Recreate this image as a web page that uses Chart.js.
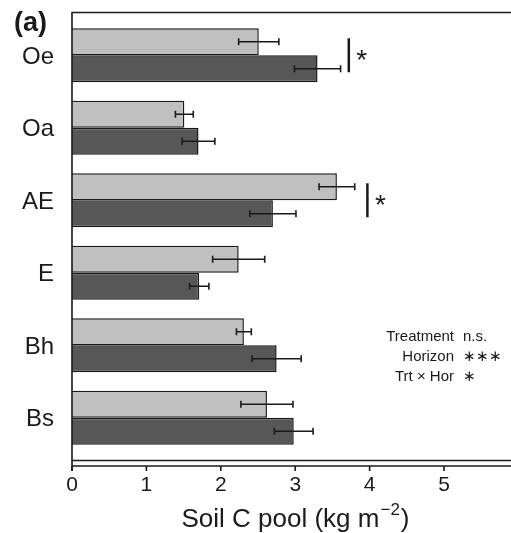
<!DOCTYPE html>
<html lang="en">
<head>
  <meta charset="UTF-8">
  <title>Soil C pool by horizon</title>
  <script src="https://cdn.jsdelivr.net/npm/chart.js"></script>
  <style>
    html, body { margin: 0; padding: 0; background: #fff; }
    #wrap { width: 511px; height: 533px; }
  </style>
</head>
<body>
<div id="wrap"><canvas id="myChart" width="511" height="533"></canvas></div>
<script>
  // horizons, top to bottom
  const horizons = ['Oe', 'Oa', 'AE', 'E', 'Bh', 'Bs'];
  // light bars and dark bars (kg m-2), with +/- error
  const lightVals = [2.51, 1.51, 3.56, 2.24, 2.31, 2.62];
  const lightErr = [0.27, 0.12, 0.24, 0.35, 0.10, 0.35];
  const darkVals = [3.30, 1.70, 2.70, 1.71, 2.75, 2.98];
  const darkErr = [0.31, 0.22, 0.31, 0.13, 0.33, 0.26];
  // where the significance bar sits (x value), null = none
  const sigAt = [3.72, null, 3.97, null, null, null];
  const statLabels = ['Treatment', 'Horizon', 'Trt \u00d7 Hor'];
  const statValues = ['n.s.', '\u2217\u2217\u2217', '\u2217'];
  const xTicks = [0, 1, 2, 3, 4, 5];

  const ink = '#1a1a1a';
  const fontFam = '"Liberation Sans", Arial, Helvetica, sans-serif';

  const extras = {
    id: 'extras',
    afterDatasetsDraw(chart) {
      const ctx = chart.ctx;
      const xs = chart.scales.x;
      const area = chart.chartArea;
      const frameTop = area.top - 6.5;
      const frameBot = area.bottom + 6.5;
      const axisY = area.bottom + 12;
      ctx.save();
      ctx.strokeStyle = ink;
      ctx.lineWidth = 1.6;
      // frame
      ctx.beginPath();
      ctx.moveTo(area.right, frameTop);
      ctx.lineTo(area.left, frameTop);
      ctx.lineTo(area.left, axisY + 5);
      ctx.moveTo(area.left, frameBot);
      ctx.lineTo(area.right, frameBot);
      ctx.moveTo(area.left, axisY);
      ctx.lineTo(area.right, axisY);
      ctx.stroke();
      // x tick marks
      ctx.beginPath();
      xTicks.forEach(v => {
        const px = xs.getPixelForValue(v);
        ctx.moveTo(px, axisY);
        ctx.lineTo(px, axisY + 5);
      });
      ctx.stroke();

      // error bars
      ctx.lineWidth = 1.6;
      [[0, lightVals, lightErr], [1, darkVals, darkErr]].forEach(([di, vals, errs]) => {
        const meta = chart.getDatasetMeta(di);
        meta.data.forEach((bar, i) => {
          const lo = xs.getPixelForValue(vals[i] - errs[i]);
          const hi = xs.getPixelForValue(vals[i] + errs[i]);
          const y = bar.y;
          ctx.beginPath();
          ctx.moveTo(lo, y); ctx.lineTo(hi, y);
          ctx.moveTo(lo, y - 3.5); ctx.lineTo(lo, y + 3.5);
          ctx.moveTo(hi, y - 3.5); ctx.lineTo(hi, y + 3.5);
          ctx.stroke();
        });
      });

      // significance bars
      const ys = chart.scales.y;
      ctx.fillStyle = ink;
      ctx.textAlign = 'center';
      ctx.textBaseline = 'middle';
      sigAt.forEach((v, i) => {
        if (v === null) return;
        const px = xs.getPixelForValue(v);
        const cy = ys.getPixelForValue(i);
        ctx.lineWidth = 2.5;
        ctx.beginPath();
        ctx.moveTo(px, cy - 17);
        ctx.lineTo(px, cy + 17);
        ctx.stroke();
        ctx.font = '28px ' + fontFam;
        ctx.fillText('*', px + 13, cy + 6);
      });

      // stats block
      ctx.fillStyle = ink;
      ctx.font = '15px ' + fontFam;
      statLabels.forEach((t, i) => {
        const y = 337 + i * 19.7;
        ctx.textAlign = 'right';
        ctx.fillText(t, 454, y);
        ctx.textAlign = 'left';
        ctx.fillText(statValues[i], 463, y);
      });

      // panel letter
      ctx.font = 'bold 27px ' + fontFam;
      ctx.textAlign = 'left';
      ctx.fillText('(a)', 14, 24);

      // axis title with superscript
      const main = 'Soil C pool (kg m';
      const sup = '\u22122';
      const end = ')';
      ctx.font = '26px ' + fontFam;
      const wMain = ctx.measureText(main).width;
      const wEnd = ctx.measureText(end).width;
      ctx.font = '17px ' + fontFam;
      const wSup = ctx.measureText(sup).width;
      const total = wMain + wSup + wEnd + 2;
      let x0 = (area.left + area.right) / 2 - total / 2 + 4;
      const base = 527;
      ctx.textBaseline = 'alphabetic';
      ctx.font = '26px ' + fontFam;
      ctx.fillText(main, x0, base);
      ctx.font = '17px ' + fontFam;
      ctx.fillText(sup, x0 + wMain + 1, base - 12);
      ctx.font = '26px ' + fontFam;
      ctx.fillText(end, x0 + wMain + wSup + 2, base);
      ctx.restore();
    }
  };

  const ctx = document.getElementById('myChart').getContext('2d');
  new Chart(ctx, {
    type: 'bar',
    data: {
      labels: horizons,
      datasets: [
        {
          label: 'Light',
          data: lightVals,
          backgroundColor: '#c0c0c0',
          borderColor: ink,
          borderWidth: 1.5,
          categoryPercentage: 0.745,
          barPercentage: 1.0
        },
        {
          label: 'Dark',
          data: darkVals,
          backgroundColor: '#575757',
          borderColor: ink,
          borderWidth: 1.5,
          categoryPercentage: 0.745,
          barPercentage: 1.0
        }
      ]
    },
    options: {
      indexAxis: 'y',
      responsive: false,
      animation: false,
      layout: { padding: { top: 19, right: 0, bottom: 0, left: 0 } },
      scales: {
        x: {
          type: 'linear',
          min: 0,
          max: 5.9,
          grid: { display: false, drawTicks: false },
          border: { display: false },
          ticks: {
            stepSize: 1,
            includeBounds: false,
            padding: 19,
            color: ink,
            font: { size: 21, family: fontFam }
          },
          afterFit(scale) { scale.height = 79; scale.paddingRight = 0; }
        },
        y: {
          grid: { display: false, drawTicks: false },
          border: { display: false },
          ticks: {
            padding: 18,
            labelOffset: 2,
            color: ink,
            font: { size: 24, family: fontFam }
          },
          afterFit(scale) {
            scale.width = 72;
            scale.paddingTop = 0;
            scale.paddingBottom = 0;
          }
        }
      },
      plugins: {
        legend: { display: false },
        tooltip: { enabled: false }
      }
    },
    plugins: [extras]
  });
</script>
</body>
</html>
